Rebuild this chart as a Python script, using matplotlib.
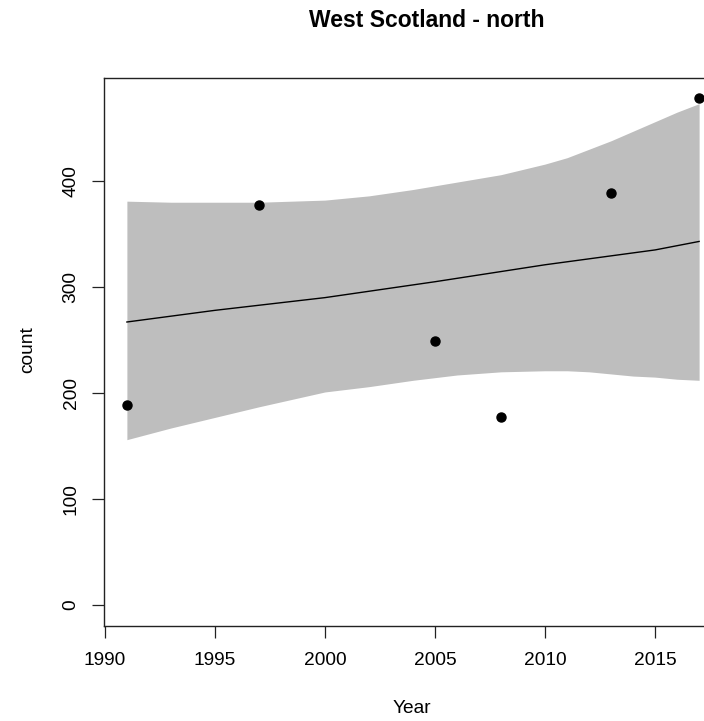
import matplotlib
matplotlib.use("Agg")
import matplotlib.pyplot as plt

# observed counts
years = [1991, 1997, 2005, 2008, 2013, 2017]
counts = [189, 377, 249, 177, 389, 478]

# smoothed fit
fit_years = [1991, 1995, 2000, 2005, 2010, 2015, 2017]
fit_vals = [267, 278, 290, 305, 321, 335, 343]

# confidence band
band_years = [1991, 1993, 1995, 1997, 2000, 2002, 2004, 2006, 2008, 2010, 2011, 2012,
              2013, 2014, 2015, 2016, 2017]
band_upper = [381, 380, 380, 380, 382, 386, 392, 399, 406, 416, 422, 430,
              438, 447, 456, 465, 473]
band_lower = [156, 167, 177, 187, 201, 206, 212, 217, 220, 221, 221, 220,
              218, 216, 215, 213, 212]

plt.rcParams['font.family'] = ['Liberation Sans', 'DejaVu Sans']

W, H = 704, 721
fig = plt.figure(figsize=(W / 100, H / 100), dpi=100)
ax = fig.add_axes([104 / W, 1 - 626 / H, 618 / W, 548 / H])

ax.fill_between(band_years, band_lower, band_upper, color='#BEBEBE', linewidth=0)
ax.plot(fit_years, fit_vals, color='black', linewidth=1.0)
ax.plot(years, counts, 'o', color='black', markersize=6.5)

ax.set_xlim(1989.96, 2018.04)
ax.set_ylim(-19.8, 497.2)
ax.set_xticks([1990, 1995, 2000, 2005, 2010, 2015])
ax.set_yticks([0, 100, 200, 300, 400])

for s in ax.spines.values():
    s.set_linewidth(1.0)
    s.set_color('#222222')

ax.tick_params(axis='both', direction='out', length=8.5, width=0.9,
               color='#222222', labelsize=13.8)
ax.tick_params(axis='x', pad=10)
ax.tick_params(axis='y', pad=9)
for lab in ax.get_yticklabels():
    lab.set_rotation(90)
    lab.set_va('center')

fig.text(426.5 / W, 1 - 27 / H, "West Scotland - north", ha='center', va='baseline',
         fontsize=16.5, fontweight='bold')
fig.text(412 / W, 1 - 713 / H, "Year", ha='center', va='baseline', fontsize=13.8)
fig.text(32 / W, 1 - 350 / H, "count", ha='center', va='baseline', fontsize=13.8,
         rotation=90, rotation_mode='anchor')

fig.savefig("out.png", dpi=100)
